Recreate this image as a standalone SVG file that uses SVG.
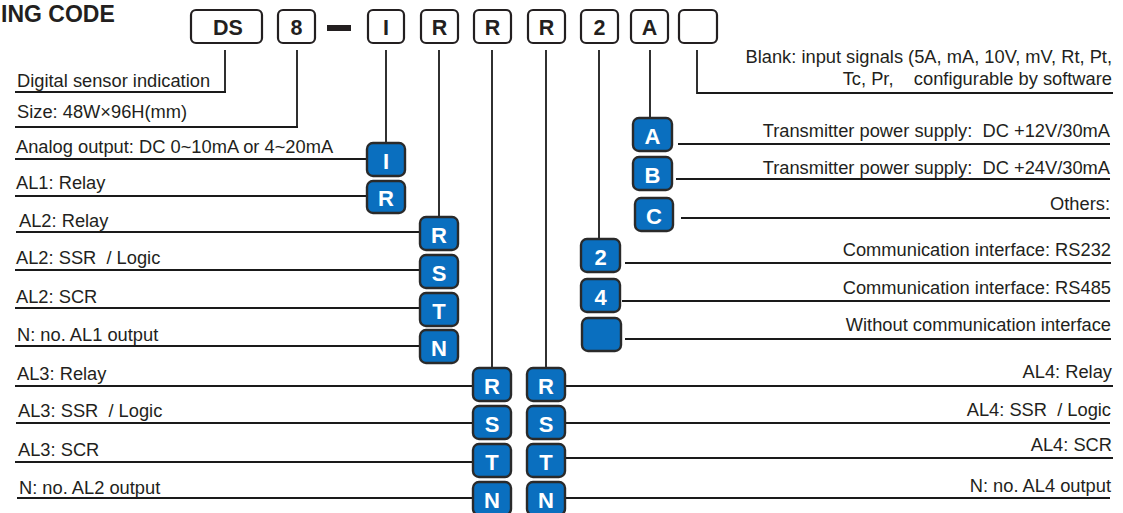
<svg xmlns="http://www.w3.org/2000/svg" width="1123" height="513" viewBox="0 0 1123 513">
<style>
.bg{fill:#ffffff}
.code rect{fill:#ffffff;stroke:#231f20;stroke-width:2.2}
.code text{font-family:"Liberation Sans",Arial,sans-serif;font-weight:bold;font-size:21.5px;fill:#231f20;text-anchor:middle}
.opt rect{fill:#0a6fbf;stroke:#2a2a2a;stroke-width:2.4}
.opt text{font-family:"Liberation Sans",Arial,sans-serif;font-weight:bold;font-size:22px;fill:#ffffff;text-anchor:middle}
.lbl{font-family:"Liberation Sans",Arial,sans-serif;font-size:18.3px;fill:#231f20}
.r{text-anchor:end}
.conn line,.conn polyline{stroke:#1a1a1a;stroke-width:2.2;fill:none}
.conn .v{stroke-width:1.8}
.title{font-family:"Liberation Sans",Arial,sans-serif;font-weight:bold;font-size:23px;fill:#231f20}
</style>
<rect class="bg" x="0" y="0" width="1123" height="513"/>
<text class="title" x="1" y="22">ING CODE</text>

<g class="conn" id="connectors">
  <polyline class="v" points="225,50 225,92 15,92"/>
  <polyline class="v" points="297,50 297,127 15,127"/>
  <line class="v" x1="386" y1="50" x2="386" y2="143"/>
  <line class="v" x1="439" y1="50" x2="439" y2="217"/>
  <line class="v" x1="492" y1="50" x2="492" y2="368"/>
  <line class="v" x1="546" y1="50" x2="546" y2="368"/>
  <line class="v" x1="599" y1="50" x2="599" y2="238"/>
  <line class="v" x1="650" y1="50" x2="650" y2="118"/>
  <polyline class="v" points="697,50 697,93 1113,93"/>
  <line x1="15" y1="92" x2="226" y2="92"/>
  <line x1="15" y1="127" x2="298" y2="127"/>
  <line x1="15" y1="159" x2="367" y2="159"/>
  <line x1="15" y1="196" x2="367" y2="196"/>
  <line x1="16" y1="232" x2="420" y2="232"/>
  <line x1="15" y1="270" x2="420" y2="270"/>
  <line x1="15" y1="308" x2="420" y2="308"/>
  <line x1="15" y1="346" x2="420" y2="346"/>
  <line x1="15" y1="386" x2="473" y2="386"/>
  <line x1="16" y1="423" x2="473" y2="423"/>
  <line x1="15" y1="462" x2="473" y2="462"/>
  <line x1="17" y1="498" x2="473" y2="498"/>
  <line x1="678" y1="144" x2="1110" y2="144"/>
  <line x1="676" y1="179" x2="1110" y2="179"/>
  <line x1="681" y1="218" x2="1110" y2="218"/>
  <line x1="625" y1="263" x2="1111" y2="263"/>
  <line x1="622" y1="301" x2="1110" y2="301"/>
  <line x1="625" y1="339" x2="1111" y2="339"/>
  <line x1="565" y1="386" x2="1113" y2="386"/>
  <line x1="565" y1="423" x2="1110" y2="423"/>
  <line x1="565" y1="458" x2="1113" y2="458"/>
  <line x1="565" y1="498" x2="1110" y2="498"/>
</g>

<g class="code" id="code-DS"><rect x="191" y="10" width="71" height="33" rx="5"/><text x="228" y="35">DS</text></g>
<g class="code" id="code-8"><rect x="278" y="10" width="37" height="33" rx="5"/><text x="296.5" y="35">8</text></g>
<rect id="code-dash" x="327" y="25" width="24" height="6" fill="#231f20"/>
<g class="code" id="code-I"><rect x="368" y="10" width="36" height="33" rx="5"/><text x="386" y="35">I</text></g>
<g class="code" id="code-R1"><rect x="421" y="10" width="37" height="33" rx="5"/><text x="439.5" y="35">R</text></g>
<g class="code" id="code-R2"><rect x="474" y="10" width="37" height="33" rx="5"/><text x="492.5" y="35">R</text></g>
<g class="code" id="code-R3"><rect x="528" y="10" width="37" height="33" rx="5"/><text x="546.5" y="35">R</text></g>
<g class="code" id="code-2"><rect x="581" y="10" width="37" height="33" rx="5"/><text x="599.5" y="35">2</text></g>
<g class="code" id="code-A"><rect x="631" y="10" width="37" height="33" rx="5"/><text x="649.5" y="35">A</text></g>
<g class="code" id="code-blank"><rect x="679" y="10" width="38" height="33" rx="5"/></g>

<g class="opt" id="opt-I"><rect x="367" y="143" width="38" height="33" rx="6"/><text x="386" y="169">I</text></g>
<g class="opt" id="opt-AL1-R"><rect x="367" y="181" width="38" height="32" rx="6"/><text x="386" y="206">R</text></g>

<g class="opt" id="opt-AL2-R"><rect x="420" y="217" width="38" height="33" rx="6"/><text x="439" y="243">R</text></g>
<g class="opt" id="opt-AL2-S"><rect x="420" y="255" width="38" height="33" rx="6"/><text x="439" y="281">S</text></g>
<g class="opt" id="opt-AL2-T"><rect x="420" y="293" width="38" height="33" rx="6"/><text x="439" y="319">T</text></g>
<g class="opt" id="opt-AL2-N"><rect x="420" y="330" width="38" height="33" rx="6"/><text x="439" y="356">N</text></g>

<g class="opt" id="opt-AL3-R"><rect x="473" y="368" width="38" height="33" rx="6"/><text x="492" y="394">R</text></g>
<g class="opt" id="opt-AL3-S"><rect x="473" y="406" width="38" height="33" rx="6"/><text x="492" y="432">S</text></g>
<g class="opt" id="opt-AL3-T"><rect x="473" y="444" width="38" height="33" rx="6"/><text x="492" y="470">T</text></g>
<g class="opt" id="opt-AL3-N"><rect x="473" y="482" width="38" height="33" rx="6"/><text x="492" y="508">N</text></g>

<g class="opt" id="opt-AL4-R"><rect x="527" y="368" width="38" height="33" rx="6"/><text x="546" y="394">R</text></g>
<g class="opt" id="opt-AL4-S"><rect x="527" y="406" width="38" height="33" rx="6"/><text x="546" y="432">S</text></g>
<g class="opt" id="opt-AL4-T"><rect x="527" y="444" width="38" height="33" rx="6"/><text x="546" y="470">T</text></g>
<g class="opt" id="opt-AL4-N"><rect x="527" y="482" width="38" height="33" rx="6"/><text x="546" y="508">N</text></g>

<g class="opt" id="opt-COM-2"><rect x="581" y="239" width="39" height="33" rx="6"/><text x="600.5" y="265">2</text></g>
<g class="opt" id="opt-COM-4"><rect x="581" y="279" width="39" height="33" rx="6"/><text x="600.5" y="305">4</text></g>
<g class="opt" id="opt-COM-blank"><rect x="582" y="318" width="39" height="33" rx="6"/></g>

<g class="opt" id="opt-PS-A"><rect x="633" y="118" width="39" height="33" rx="6"/><text x="652.5" y="144">A</text></g>
<g class="opt" id="opt-PS-B"><rect x="633" y="157" width="39" height="33" rx="6"/><text x="652.5" y="183">B</text></g>
<g class="opt" id="opt-PS-C"><rect x="635" y="198" width="38" height="33" rx="6"/><text x="654" y="224">C</text></g>

<g id="labels-left">
  <text class="lbl" x="17" y="87">Digital sensor indication</text>
  <text class="lbl" x="17" y="118">Size: 48W×96H(mm)</text>
  <text class="lbl" x="16" y="153">Analog output: DC 0~10mA or 4~20mA</text>
  <text class="lbl" x="16" y="189">AL1: Relay</text>
  <text class="lbl" x="19" y="227">AL2: Relay</text>
  <text class="lbl" x="16" y="264" xml:space="preserve">AL2: SSR  / Logic</text>
  <text class="lbl" x="16" y="303">AL2: SCR</text>
  <text class="lbl" x="17" y="341">N: no. AL1 output</text>
  <text class="lbl" x="17" y="380">AL3: Relay</text>
  <text class="lbl" x="18" y="417" xml:space="preserve">AL3: SSR  / Logic</text>
  <text class="lbl" x="18" y="456">AL3: SCR</text>
  <text class="lbl" x="19" y="494">N: no. AL2 output</text>
</g>

<g id="labels-right">
  <text class="lbl r" x="1112" y="63">Blank: input signals (5A, mA, 10V, mV, Rt, Pt,</text>
  <text class="lbl r" x="1112" y="85" xml:space="preserve">Tc, Pr,    configurable by software</text>
  <text class="lbl r" x="1110" y="137" xml:space="preserve">Transmitter power supply:  DC +12V/30mA</text>
  <text class="lbl r" x="1110" y="174" xml:space="preserve">Transmitter power supply:  DC +24V/30mA</text>
  <text class="lbl r" x="1110" y="210">Others:</text>
  <text class="lbl r" x="1111" y="256">Communication interface: RS232</text>
  <text class="lbl r" x="1111" y="294">Communication interface: RS485</text>
  <text class="lbl r" x="1111" y="331">Without communication interface</text>
  <text class="lbl r" x="1112" y="378">AL4: Relay</text>
  <text class="lbl r" x="1111" y="416" xml:space="preserve">AL4: SSR  / Logic</text>
  <text class="lbl r" x="1112" y="451">AL4: SCR</text>
  <text class="lbl r" x="1111" y="492">N: no. AL4 output</text>
</g>
</svg>
